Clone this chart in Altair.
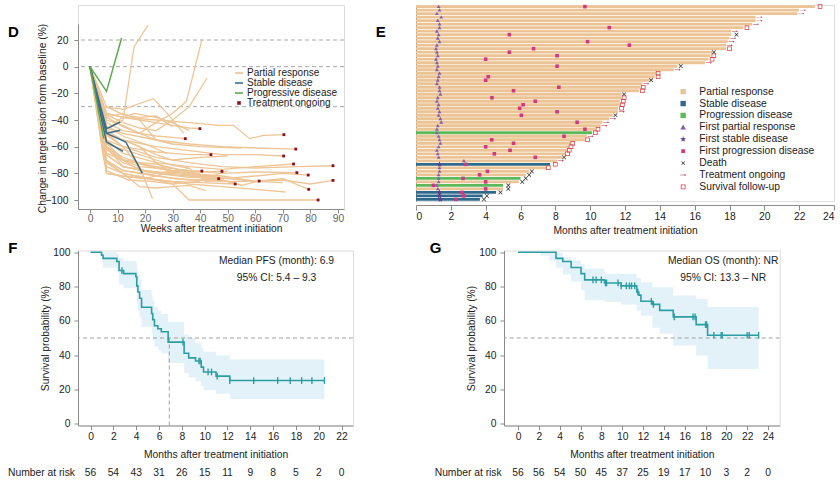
import altair as alt
import pandas as pd

FONT = "Liberation Sans"
FS = 10.3
AX = "#8a8a8a"
TXT = "#222222"

# ================= Panel D : spider plot =================
d_pr_weeks = [
    [0, 6, 12, 18, 24, 30, 34.6], [0, 6, 12, 18, 24, 30, 36, 39.9], [0, 6, 12, 18, 24, 30, 36, 43.9],
    [0, 6, 12, 18, 24, 30, 36, 40.6], [0, 5, 12, 20, 28, 36, 47.9], [0, 5, 12, 20, 30, 40, 46.7],
    [0, 6, 12, 22, 30, 40, 52.7], [0, 6, 12, 24, 36, 48, 55, 61.4], [0, 6, 12, 24, 36, 47, 52, 58, 63, 70.4],
    [0, 6, 12, 24, 36, 48, 60, 70.3], [0, 6, 12, 24, 36, 48, 60, 74.7], [0, 6, 12, 24, 36, 48, 60, 73.9],
    [0, 6, 12, 24, 36, 48, 60, 75.1], [0, 6, 12, 24, 36, 48, 60, 70, 79.2], [0, 6, 12, 24, 36, 48, 60, 70, 79.4],
    [0, 6, 12, 24, 30, 36, 50, 70, 82.8], [0, 6, 12, 24, 36, 48, 60, 75, 88.2], [0, 6, 12, 24, 36, 48, 60, 70, 80, 88.2],
    [0, 5, 12, 16, 21], [0, 6, 12, 18, 24, 30, 35, 40.6], [0, 6, 12, 18, 24, 30, 36, 42.5],
    [0, 5, 12, 23, 28, 34], [0, 5, 12, 18, 22.7], [0, 6, 12, 24, 36, 48, 60, 71],
    [0, 6, 12, 18, 24, 30], [0, 6, 12, 18, 24, 30, 40, 50], [0, 6, 12, 18, 24, 30, 40, 55],
    [0, 5, 12, 20, 30, 40, 50, 60, 70], [0, 5, 12, 18, 24, 30], [0, 6, 12, 18, 24, 30, 36, 42],
    [0, 6, 12, 20, 28], [0, 6, 12, 18, 24, 30], [0, 6, 14, 22, 30, 40],
    [0, 5, 12, 18, 24, 30, 36], [0, 6, 12, 18, 24, 30, 36, 42, 50], [0, 5, 10, 16, 24, 30, 36],
    [0, 6, 12, 20, 30, 40], [0, 6, 12, 18, 24, 30, 36, 42, 48, 55], [0, 6, 12, 18, 24, 30, 36, 44, 50],
]
d_pr_pct = [
    [0, -42, -48, -50, -52, -53, -54], [0, -35, -38, -40, -42, -44, -46, -46.5], [0, -55, -60, -62, -64, -65, -66, -66],
    [0, -65, -70, -75, -76, -78, -78, -78.3], [0, -60, -72, -78, -80, -79, -78.5], [0, -70, -78, -80, -84, -85, -84],
    [0, -72, -80, -84, -86, -87, -88], [0, -60, -75, -80, -82, -85, -89, -85.8], [0, -35, -38, -40, -42, -44, -44, -54, -51.5, -51],
    [0, -50, -55, -60, -63, -66, -66, -67], [0, -45, -50, -55, -58, -60, -61, -61.8], [0, -55, -65, -72, -75, -77, -75, -73],
    [0, -62, -70, -75, -78, -80, -79, -79.5], [0, -66, -75, -80, -83, -84, -82, -80, -81.3], [0, -70, -78, -82, -85, -86, -86, -84, -92],
    [0, -72, -80, -85, -88, -100, -100, -100, -100], [0, -50, -60, -68, -72, -75, -76, -75, -74.3], [0, -60, -70, -76, -80, -82, -86, -85, -88, -85.3],
    [0, -48, -40, 15, 31], [0, -38, -45, -50, -42, -35, -26, 20], [0, -36, -42, -46, -48, -40, -30, -8.5],
    [0, -30, -32, -24, -35, -50], [0, -50, -60, -75, -99], [0, -80, -82, -85, -88, -90, -92, -94],
    [0, -38, -35, -40, -55, -58], [0, -48, -55, -60, -66, -70, -68, -67], [0, -40, -44, -50, -55, -58, -60, -61],
    [0, -65, -75, -78, -80, -82, -84, -86, -87], [0, -55, -70, -78, -80, -78], [0, -75, -80, -90, -91, -90, -89, -93],
    [0, -45, -52, -58, -65], [0, -30, -36, -38, -37, -45], [0, -78, -85, -86, -88, -86],
    [0, -50, -55, -60, -72, -80, -76], [0, -60, -68, -72, -73, -76, -79, -84, -78], [0, -52, -40, -35, -38, -42, -48],
    [0, -80, -82, -84, -79, -80], [0, -58, -62, -66, -70, -74, -76, -86, -85, -89], [0, -65, -70, -72, -76, -78, -81, -82, -84],
]
d_sd_weeks = [[0, 6, 11], [0, 6, 11], [0, 6, 12], [0, 6, 13, 19]]
d_sd_pct = [[0, -46.5, -41.5], [0, -50, -47.7], [0, -56.5, -63.5], [0, -50, -56.5, -80]]
d_pd_weeks = [[0, 6, 11.5], [0, 5]]
d_pd_pct = [[0, -18.5, 21.7], [0, -54]]
d_on_weeks = [34.6, 39.9, 43.9, 40.6, 47.9, 46.7, 52.7, 61.4, 70.4, 70.3, 74.7, 73.9, 75.1, 79.2, 79.4, 82.8, 88.2, 88.2]
d_on_pct = [-54, -46.5, -66, -78.3, -78.5, -84, -88, -85.8, -51, -67, -61.8, -73, -79.5, -81.3, -92, -100, -74.3, -85.3]
d_ref_lines = [20, 0, -30]
d_cats = ["Partial response", "Stable disease", "Progressive disease", "Treatment ongoing"]
d_colors = ["#EDC596", "#3C6E8C", "#5BAA4E", "#8E0E24"]

# ================= Panel E : swimmer plot =================
e_len = [22.9, 22.0, 21.9, 19.5, 19.5, 19.3, 18.8, 18.1, 18.1, 18.0,
         17.9, 17.8, 17.8, 17.0, 16.9, 16.8, 16.6, 15.0, 14.8, 13.8,
         13.7, 13.4, 13.0, 12.9, 12.8, 11.8, 11.8, 11.7, 11.7, 11.6,
         11.6, 11.3, 11.1, 10.7, 10.6, 10.3, 10.1, 9.8, 9.7, 8.9,
         8.8, 8.7, 8.6, 8.4, 8.1, 7.7, 7.5, 6.5, 6.3, 6.0,
         5.9, 5.0, 5.0, 4.6, 3.83, 3.67]
e_sd_rows = [45, 53, 54, 55]
e_pdbar_rows = [36, 49, 51]
e_first = [1.3, 1.35, 1.2, 1.45, 1.25, 1.35, 1.35, 1.2, 1.3, 1.25,
           1.35, 1.2, 1.15, 1.2, 1.25, 1.15, 1.2, 1.25, 1.2, 1.35,
           1.3, 1.25, 1.2, 1.35, 1.35, 1.4, 1.25, 1.2, 1.3, 1.25,
           1.35, 1.3, 1.4, 1.45, 1.25, 1.2, 1.2, 1.3, 1.35, 1.4,
           1.3, 1.2, 1.25, 1.3, 2.75, 1.35, 1.35, 1.35, 1.3, 1.3,
           1.3, 1.2, 1.25, 1.35, 1.35, 1.4]
e_pd = [9.7, None, None, None, None, None, 11.1, None, 5.36, None,
        9.85, 12.25, 6.75, 5.36, 8.1, 4.0, None, 8.1, None, None,
        4.15, 4.0, None, 8.2, 5.6, None, 4.36, 6.85, 6.15, 5.95,
        8.1, 6.05, None, 9.25, None, 9.7, None, 8.5, 4.35, 5.6,
        4.0, 5.4, 4.5, 6.85, None, 2.87, None, 4.1, 3.65, 2.7,
        4.0, 1.0, 4.0, 2.64, 2.74, 2.3]
e_end_type = ["F", "A", "A", "A", "A", "A", "F", "A", "D", "A",
              "A", "A", "F", "D", "F", "F", "A", "D", "A", "F",
              "F", "D", "A", "F", "F", "D", "F", "F", "F", "F",
              "A", "D", "A", "A", "A", "F", "F", "A", "F", "F",
              "F", "F", "F", "D", "A", "F", "F", "D", "D", "D",
              "D", "D", "D", "D", "D", "D"]
e_end_x = [23.2, None, None, None, None, None, 19.0, None, 18.4, None,
           None, None, 18.0, 17.1, 17.1, 17.0, None, 15.2, None, 13.9,
           13.9, 13.5, None, 13.05, 13.0, 11.95, 11.95, 11.9, 11.85, 11.8,
           None, 11.45, None, None, None, 10.45, 10.3, None, 9.85, 9.0,
           8.9, 8.8, 8.7, 8.5, None, 8.0, 7.6, 6.65, 6.5, 6.3,
           6.1, 5.3, 5.3, 4.85, 4.07, 3.9]
e_cats = ["Partial response", "Stable disease", "Progression disease", "First partial response",
          "First stable disease", "First progression disease", "Death", "Treatment ongoing",
          "Survival follow-up"]
e_colors = ["#EBC395", "#2F6A8B", "#5DB85A", "#8460A8", "#5D3D8F", "#CF3A7E", "#333333", "#B2304F", "#D6404A"]

# ================= Panels F / G : Kaplan-Meier =================
f_t = [0, 0.96, 1.1, 2.3, 2.5, 2.9, 3.97, 4.05, 4.15, 4.3, 4.47, 5.35, 5.45, 5.6, 5.9, 6.2, 6.8, 8.2, 8.6, 9.2, 9.7, 9.9, 11.0, 12.2, 20.5]
f_s = [100, 98.2, 96.4, 94.6, 89.3, 87.5, 85.7, 80.4, 76.8, 73.2, 67.9, 64.3, 60.7, 57.1, 55.4, 53.6, 47.6, 41.1, 38.4, 36.6, 33.0, 30.2, 27.8, 25.2, 25.2]
f_hi = [100, 100, 100, 99, 96.5, 95, 94, 90, 87, 84, 78, 75, 72, 68, 66, 64, 59.5, 52, 50, 47, 44, 42, 40, 37.5, 37.5]
f_lo = [100, 94, 91, 88, 81, 79, 77, 70, 66, 62, 56.5, 52.5, 48.5, 45, 43, 41, 35.5, 29.5, 27, 25, 22, 19.5, 17.5, 14.5, 14.5]
f_cens = [2.75, 8.1, 9.5, 9.6, 10.3, 10.6, 11.1, 12.2, 14.3, 16.4, 17.5, 18.5, 19.4, 20.5]
f_risk_t = [0, 2, 4, 6, 8, 10, 12, 14, 16, 18, 20, 22]
f_risk_n = [56, 54, 43, 31, 26, 15, 11, 9, 8, 5, 2, 0]
f_median = 6.9
f_text = ["Median PFS (month): 6.9", "95% CI: 5.4 \u2013 9.3"]

g_t = [0, 3.65, 4.3, 5.1, 6.05, 6.4, 8.3, 9.9, 11.4, 11.6, 11.8, 12.9, 13.6, 14.9, 17.1, 18.2, 23.1]
g_s = [100, 96.4, 94.6, 91.1, 87.5, 83.9, 82.1, 80.4, 76.8, 75.0, 71.4, 69.6, 66.1, 62.3, 57.8, 51.6, 51.6]
g_bt = [0, 2.2, 3.0, 3.65, 4.3, 5.1, 6.05, 6.4, 8.3, 9.9, 11.4, 11.8, 12.9, 13.6, 14.9, 17.1, 18.2, 23.1]
g_lo = [100, 98, 95, 91, 87, 83, 78, 72, 71, 69.5, 66, 63, 56, 52.5, 45.6, 39.8, 32, 32]
g_hi = [100, 100, 100, 99.5, 97, 95.2, 93, 90.3, 87.4, 87.4, 85, 82.5, 79.6, 79.6, 74.8, 72.8, 68, 68]
g_cens = [7.2, 7.5, 8.0, 8.4, 8.5, 9.6, 9.9, 10.4, 10.7, 10.9, 11.2, 11.5, 12.8, 13.0, 15.0, 16.8, 17.0,
          18.0, 18.1, 18.8, 19.5, 19.6, 22.0, 22.2, 23.1]
g_risk_t = [0, 2, 4, 6, 8, 10, 12, 14, 16, 18, 20, 22, 24]
g_risk_n = [56, 56, 54, 50, 45, 37, 25, 19, 17, 10, 3, 2, 0]
g_text = ["Median OS (month): NR", "95% CI: 13.3 \u2013 NR"]

TEAL = "#2C9EA3"
BAND = "#E3F2F8"

# ---------- symbol paths ----------
LINE_PATH = "M-1,-0.2L1,-0.2L1,0.2L-1,0.2Z"
SQ_SMALL = "M-0.45,-0.45L0.45,-0.45L0.45,0.45L-0.45,0.45Z"
SQ = "M-0.85,-0.85L0.85,-0.85L0.85,0.85L-0.85,0.85Z"
TRI = "M0,-0.9L0.9,0.7L-0.9,0.7Z"
STAR = ("M0,-1L0.235,-0.324L0.951,-0.309L0.38,0.124L0.588,0.809L0,0.4L-0.588,0.809"
        "L-0.38,0.124L-0.951,-0.309L-0.235,-0.324Z")
PDSQ = "M-0.6,-0.6L0.6,-0.6L0.6,0.6L-0.6,0.6Z"
XPATH = "M-0.6,-0.45L-0.45,-0.6L0.6,0.45L0.45,0.6ZM0.45,-0.6L0.6,-0.45L-0.45,0.6L-0.6,0.45Z"
ARROW = "M-1,-0.08L0.45,-0.08L0.45,-0.32L1,0L0.45,0.32L0.45,0.08L-1,0.08Z"
HOLLOW = "M-0.75,-0.75L0.75,-0.75L0.75,0.75L-0.75,0.75ZM-0.5,-0.5L-0.5,0.5L0.5,0.5L0.5,-0.5Z"


def axis(**kw):
    base = dict(labelFont=FONT, titleFont=FONT, labelFontSize=FS, titleFontSize=FS,
                domainColor=AX, tickColor=AX, labelColor=TXT, titleColor=TXT,
                titleFontWeight="normal", grid=False)
    base.update(kw)
    return alt.Axis(**base)


def letter(ch, x, y):
    return alt.Chart(pd.DataFrame({"t": [ch]})).mark_text(
        font=FONT, fontSize=15, fontWeight="bold", align="left", baseline="top", color="black"
    ).encode(text="t:N", x=alt.value(x), y=alt.value(y))


# ---------- build D ----------
rows = []
for i, (ws, ps) in enumerate(zip(d_pr_weeks, d_pr_pct)):
    for w, p in zip(ws, ps):
        rows.append({"id": f"pr{i}", "week": w, "pct": p, "cat": "Partial response"})
df_pr = pd.DataFrame(rows)
rows = []
for i, (ws, ps) in enumerate(zip(d_sd_weeks, d_sd_pct)):
    for w, p in zip(ws, ps):
        rows.append({"id": f"sd{i}", "week": w, "pct": p, "cat": "Stable disease"})
for i, (ws, ps) in enumerate(zip(d_pd_weeks, d_pd_pct)):
    for w, p in zip(ws, ps):
        rows.append({"id": f"pd{i}", "week": w, "pct": p, "cat": "Progressive disease"})
df_oth = pd.DataFrame(rows)
df_on = pd.DataFrame({"week": d_on_weeks, "pct": d_on_pct, "cat": "Treatment ongoing"})

D_H = 204  # plot spans y 3..207; axis line drawn only over the lower 185 px
xD = alt.X("week:Q", scale=alt.Scale(domain=[-4.35, 92.2], nice=False, zero=False),
           axis=axis(values=list(range(0, 91, 10)), tickSize=4, labelPadding=0, titlePadding=0,
                     title="Weeks after treatment initiation", labelColor="#666666"))
yD = alt.Y("pct:Q", scale=alt.Scale(domain=[-106.75, 46.25], nice=False, zero=False),
           axis=axis(values=list(range(-100, 21, 20)), tickSize=4, labelPadding=6, titlePadding=-3,
                     domainDash=[185, 400], titleY=113,
                     title="Change in target lesion form baseline (%)"))
d_color = alt.Scale(domain=d_cats, range=d_colors)
d_shape = alt.Scale(domain=d_cats, range=[LINE_PATH, LINE_PATH, LINE_PATH, SQ_SMALL])
d_leg = alt.Legend(title=None, orient="none", legendX=156, legendY=63, labelFont=FONT, labelFontSize=10,
                   labelColor=TXT, symbolSize=64, rowPadding=0, labelOffset=3, symbolStrokeWidth=0, padding=0)

d_legend_layer = alt.Chart(df_on).transform_filter("false").mark_point(
    filled=True, opacity=1, size=40, strokeWidth=0).encode(
    x=xD, y=yD, color=alt.Color("cat:N", scale=d_color, legend=d_leg),
    shape=alt.Shape("cat:N", scale=d_shape, legend=d_leg))
d_rules = alt.Chart(pd.DataFrame({"pct": d_ref_lines})).mark_rule(
    color="#a8a8a8", strokeDash=[4, 3], strokeWidth=1).encode(y=yD)
d_l1 = alt.Chart(df_pr).mark_line(strokeWidth=1.3).encode(
    x=xD, y=yD, detail="id:N", color=alt.Color("cat:N", scale=d_color, legend=None))
d_l2 = alt.Chart(df_oth).mark_line(strokeWidth=1.5).encode(
    x=xD, y=yD, detail="id:N", color=alt.Color("cat:N", scale=d_color, legend=None))
d_pts = alt.Chart(df_on).mark_point(filled=True, opacity=1, size=40, strokeWidth=0).encode(
    x=xD, y=yD, color=alt.Color("cat:N", scale=d_color, legend=None),
    shape=alt.Shape("cat:N", scale=d_shape, legend=None))
D = alt.layer(d_legend_layer, d_rules, d_l1, d_l2, d_pts, letter("D", -70, 20)).properties(width=266, height=D_H)

# ---------- build E ----------
resp = []
for i in range(len(e_len)):
    if i in e_sd_rows:
        resp.append("Stable disease")
    elif i in e_pdbar_rows:
        resp.append("Progression disease")
    else:
        resp.append("Partial response")
df_bars = pd.DataFrame({"row": list(range(len(e_len))), "len": e_len, "cat": resp})
mk = []
size_of = {"First partial response": 18, "First stable disease": 40, "First progression disease": 36,
           "Death": 49, "Treatment ongoing": 36, "Survival follow-up": 36}
for i in range(len(e_len)):
    c = "First stable disease" if i in e_sd_rows else "First partial response"
    mk.append({"row": i, "mx": e_first[i], "cat": c})
    if e_pd[i] is not None:
        mk.append({"row": i, "mx": e_pd[i], "cat": "First progression disease"})
    t = e_end_type[i]
    if t == "A":
        mk.append({"row": i, "mx": e_len[i] + 0.22, "cat": "Treatment ongoing"})
    elif t == "D":
        mk.append({"row": i, "mx": e_end_x[i], "cat": "Death"})
    else:
        mk.append({"row": i, "mx": e_end_x[i], "cat": "Survival follow-up"})
df_mk = pd.DataFrame(mk)
df_mk["sz"] = df_mk["cat"].map(size_of)

e_xscale = alt.Scale(domain=[0, 24], nice=False, zero=True)
e_xaxis = axis(values=list(range(0, 25, 2)), tickSize=5, offset=4, labelPadding=1, titlePadding=4,
               title="Months after treatment initiation")
yE = alt.Y("row:O", scale=alt.Scale(paddingInner=0.18, paddingOuter=0.05),
           axis=alt.Axis(labels=False, ticks=False, title=None, domainColor="#a58d6f", grid=False))
e_color = alt.Scale(domain=e_cats, range=e_colors)
e_shape = alt.Scale(domain=e_cats, range=[SQ, SQ, SQ, TRI, STAR, PDSQ, XPATH, ARROW, HOLLOW])
e_leg = alt.Legend(title=None, orient="none", legendX=262, legendY=81.5, labelFont=FONT, labelFontSize=FS,
                   labelColor=TXT, symbolSize=40, rowPadding=0.9, labelOffset=11, symbolStrokeWidth=0, padding=0)
e_legend_layer = alt.Chart(df_mk).transform_filter("false").mark_point(
    filled=True, opacity=1, strokeWidth=0).encode(
    x=alt.X("mx:Q", scale=e_xscale, axis=e_xaxis), y=yE,
    color=alt.Color("cat:N", scale=e_color, legend=e_leg),
    shape=alt.Shape("cat:N", scale=e_shape, legend=e_leg))
e_bars = alt.Chart(df_bars).mark_bar().encode(
    x=alt.X("len:Q", scale=e_xscale, axis=e_xaxis), y=yE,
    color=alt.Color("cat:N", scale=e_color, legend=None))
e_pts = alt.Chart(df_mk).mark_point(filled=True, opacity=1, strokeWidth=0).encode(
    x=alt.X("mx:Q", scale=e_xscale, axis=e_xaxis), y=yE,
    color=alt.Color("cat:N", scale=e_color, legend=None),
    shape=alt.Shape("cat:N", scale=e_shape, legend=None),
    size=alt.Size("sz:Q", scale=None, legend=None))
E = alt.layer(e_legend_layer, e_bars, e_pts, letter("E", -40.3, 20)).properties(width=418, height=196)


# ---------- build KM ----------
def step_at(ts, ss, x):
    v = ss[0]
    for tt, s in zip(ts, ss):
        if tt <= x:
            v = s
    return v


def km_panel(ch, t, s, bt, lo, hi, cens, risk_t, risk_n, texts, text_x, xdom, xticks, width,
             median=None, letter_x=-70, nar_x=-70):
    xs = alt.Scale(domain=xdom, nice=False, zero=False)
    ys = alt.Scale(domain=[-1, 101], nice=False, zero=False)
    xa = axis(values=xticks, tickSize=4, labelPadding=2, titlePadding=8,
              title="Months after treatment initiation")
    ya = axis(values=list(range(0, 101, 20)), tickSize=4, labelPadding=4, titlePadding=2,
              title="Survival probability (%)")
    band = alt.Chart(pd.DataFrame({"t": bt, "lo": lo, "hi": hi})).mark_area(
        interpolate="step-after", color=BAND, opacity=1).encode(
        x=alt.X("t:Q", scale=xs, axis=xa), y=alt.Y("lo:Q", scale=ys, axis=ya), y2="hi:Q")
    hline = alt.Chart(pd.DataFrame({"y": [50]})).mark_rule(
        color="#a0a0a0", strokeDash=[4, 3], strokeWidth=1).encode(y=alt.Y("y:Q", scale=ys, axis=ya))
    layers = [band, hline]
    if median is not None:
        vline = alt.Chart(pd.DataFrame({"x": [median], "y": [-1], "y2": [50]})).mark_rule(
            color="#a0a0a0", strokeDash=[4, 3], strokeWidth=1).encode(
            x=alt.X("x:Q", scale=xs, axis=xa), y=alt.Y("y:Q", scale=ys, axis=ya), y2="y2:Q")
        layers.append(vline)
    curve = alt.Chart(pd.DataFrame({"t": t, "s": s})).mark_line(
        interpolate="step-after", color=TEAL, strokeWidth=1.6).encode(
        x=alt.X("t:Q", scale=xs, axis=xa), y=alt.Y("s:Q", scale=ys, axis=ya))
    cdf = pd.DataFrame({"t": cens, "s": [step_at(t, s, c) for c in cens]})
    cpts = alt.Chart(cdf).mark_point(shape="M0,-1L0,1", size=45, filled=False, color=TEAL,
                                     strokeWidth=1.4, opacity=1).encode(
        x=alt.X("t:Q", scale=xs, axis=xa), y=alt.Y("s:Q", scale=ys, axis=ya))
    tdf = pd.DataFrame({"x": [text_x, text_x], "y": [94.6, 84.9], "label": texts})
    txt = alt.Chart(tdf).mark_text(font=FONT, fontSize=FS, color=TXT).encode(
        x=alt.X("x:Q", scale=xs, axis=xa), y=alt.Y("y:Q", scale=ys, axis=ya), text="label:N")
    ndf = pd.DataFrame({"t": risk_t, "n": [str(v) for v in risk_n]})
    nar = alt.Chart(ndf).mark_text(font=FONT, fontSize=FS, color=TXT, baseline="middle").encode(
        x=alt.X("t:Q", scale=xs, axis=xa), y=alt.value(222.5), text="n:N")
    narl = alt.Chart(pd.DataFrame({"t": ["Number at risk"]})).mark_text(
        font=FONT, fontSize=FS, color=TXT, align="left", baseline="middle").encode(
        text="t:N", x=alt.value(nar_x), y=alt.value(222.5))
    layers += [curve, cpts, txt, nar, narl, letter(ch, letter_x, -10)]
    return alt.layer(*layers).properties(width=width, height=175)


F = km_panel("F", f_t, f_s, f_t, f_lo, f_hi, f_cens, f_risk_t, f_risk_n, f_text, 16.3,
             [-1.1, 23.0], list(range(0, 23, 2)), 275, median=f_median, letter_x=-69.7, nar_x=-70)
G = km_panel("G", g_t, g_s, g_bt, g_lo, g_hi, g_cens, g_risk_t, g_risk_n, g_text, 19.7,
             [-1.344, 25.12], list(range(0, 25, 2)), 275.7, letter_x=-74.3, nar_x=-69.3)

top = alt.hconcat(D, E, spacing=30).resolve_scale(color="independent", shape="independent").resolve_legend(
    color="independent", shape="independent")
bottom = alt.hconcat(F, G, spacing=75)
chart = alt.vconcat(top, bottom, spacing=2.5).properties(
    padding={"left": 7, "top": 3, "right": 0, "bottom": 0}
).configure_view(strokeWidth=0).configure(font=FONT)

chart.save("out.html", embed_options={"renderer": "svg", "actions": False})
